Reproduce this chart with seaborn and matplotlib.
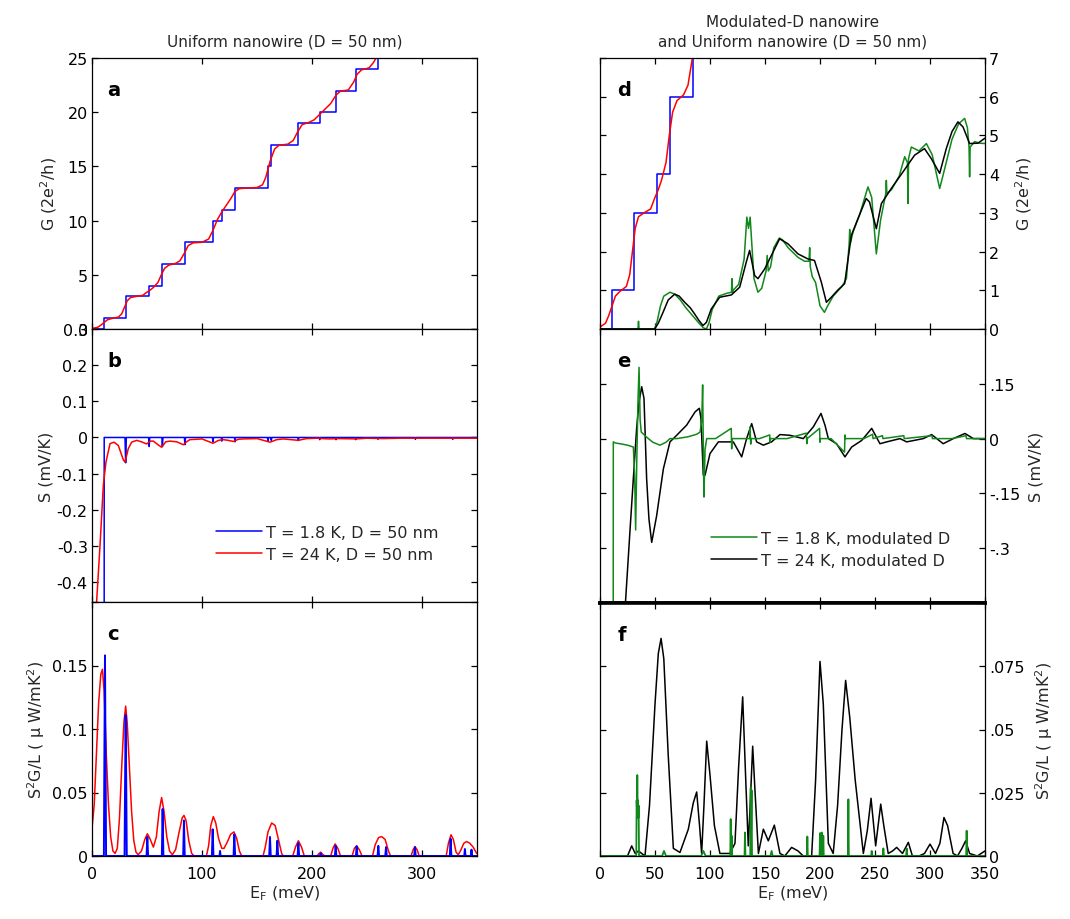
import matplotlib
matplotlib.use("Agg")
import matplotlib.pyplot as plt
import seaborn as sns

# ---------------- data ----------------
# uniform wire, T = 1.8 K, conductance staircase (steps-post)
uni_cold_G_E = [0, 11, 30.6, 52, 64, 84.5, 110, 118, 130, 160, 163, 187.6, 207, 221.8, 239.7, 260, 350]
uni_cold_G = [0, 1, 3, 4, 6, 8, 10, 11, 13, 15, 17, 19, 20, 22, 24, 26, 26]

# uniform wire, T = 24 K, conductance
uni_hot_G_E = [0, 5, 8, 11, 14, 18, 24, 27, 29.5, 32, 35, 40, 46, 50, 53, 56, 60, 63, 66, 70, 76, 80, 84,
               87.5, 92, 100, 106, 110, 114, 118, 122, 126, 130, 134, 140, 150, 155, 158, 162, 166, 170,
               178, 183, 187, 191, 197, 202, 207, 212, 217, 222, 226, 233, 238, 241, 245, 252, 256, 260, 264]
uni_hot_G = [0.05, 0.15, 0.35, 0.6, 0.85, 0.97, 1.1, 1.4, 2.0, 2.6, 2.9, 3.0, 3.1, 3.4, 3.6, 3.85, 4.3, 5.0,
             5.6, 5.9, 6.05, 6.3, 7.0, 7.7, 7.95, 8.0, 8.3, 9.1, 10.1, 10.8, 11.4, 12.0, 12.7, 12.95, 13.0,
             13.05, 13.3, 14.0, 15.5, 16.6, 16.95, 17.05, 17.4, 18.2, 18.85, 19.05, 19.3, 19.8, 20.3, 20.8,
             21.6, 21.95, 22.05, 22.8, 23.5, 23.9, 24.1, 24.6, 25.3, 26.0]

# uniform wire, thermopower
uni_cold_S_E = [0, 11.0, 11.1, 30.0, 30.6, 31.2, 51.5, 52, 52.5, 63.5, 64, 64.5, 84, 84.5, 85, 109.5, 110,
                110.5, 117.5, 118, 118.5, 129.5, 130, 130.5, 159.5, 160, 160.5, 162.5, 163, 163.5, 187,
                187.6, 188.2, 206.5, 207, 207.5, 221.3, 221.8, 222.3, 239.2, 239.7, 240.2, 259.5, 260,
                260.5, 293.5, 294, 294.5, 327.5, 328, 328.5, 350]
uni_cold_S = [-2, -2, 0, 0, -0.07, 0, 0, -0.025, 0, 0, -0.025, 0, 0, -0.02, 0, 0, -0.012, 0, 0, -0.01, 0,
              0, -0.012, 0, 0, -0.01, 0, 0, -0.008, 0, 0, -0.008, 0, 0, -0.006, 0, 0, -0.006, 0, 0, -0.006,
              0, 0, -0.005, 0, 0, -0.005, 0, 0, -0.005, 0, 0]
uni_hot_S_E = [2.7, 4.2, 7.3, 10.3, 12.7, 16.4, 20, 23.9, 28.5, 30, 33, 36, 40.6, 45, 49.7, 53, 55.8, 60,
               63.3, 67, 70.9, 77, 83, 86, 89, 100, 110, 115, 119.4, 124, 128.5, 133, 137.6, 150, 161.8,
               168, 174, 181, 187.6, 195, 205, 215, 225, 240, 250, 265, 280, 300, 330, 350]
uni_hot_S = [-0.46, -0.454, -0.298, -0.132, -0.068, -0.017, -0.013, -0.022, -0.062, -0.068, -0.031,
             -0.013, -0.008, -0.012, -0.018, -0.01, -0.01, -0.02, -0.027, -0.012, -0.01, -0.012, -0.02,
             -0.012, -0.006, -0.004, -0.016, -0.008, -0.006, -0.008, -0.011, -0.005, -0.004, -0.003,
             -0.013, -0.006, -0.004, -0.006, -0.008, -0.003, -0.002, -0.004, -0.003, -0.004, -0.002,
             -0.003, -0.002, -0.002, -0.002, -0.002]

# uniform wire, power factor
uni_hot_P_E = [0, 2, 4, 6, 8, 9.5, 11, 13, 15, 17, 19, 21, 23, 25, 27, 29, 30.6, 32, 34, 36, 38, 40, 42, 45,
               48, 50.3, 52.5, 55.8, 58.5, 61, 63.3, 65.5, 68, 70.5, 73, 76, 79, 82, 83.6, 85.5, 88, 90.6,
               93, 104, 106, 108, 110.3, 112.5, 115, 118, 120, 123, 126, 129, 131.5, 134, 136, 155.5, 157.5,
               160, 163.3, 166.5, 169.5, 172.4, 174, 182.5, 185, 187.6, 190.5, 193, 204.5, 206.5, 208, 210,
               212, 217, 219, 221, 223.5, 226, 236.5, 238.5, 240.6, 243, 245.5, 255, 257.5, 260.5, 263.3,
               266.5, 269.5, 271.5, 290, 292, 293.6, 295.5, 297.5, 322, 324, 326.4, 328.5, 331, 333, 335.5,
               338, 340.6, 343.5, 346.5, 349.7, 350]
uni_hot_P = [0.022, 0.04, 0.08, 0.12, 0.143, 0.147, 0.13, 0.08, 0.04, 0.015, 0.004, 0.002, 0.006, 0.03,
             0.07, 0.105, 0.118, 0.105, 0.07, 0.035, 0.012, 0.003, 0.001, 0.004, 0.013, 0.0175, 0.014, 0.007,
             0.015, 0.035, 0.046, 0.035, 0.015, 0.004, 0.001, 0.005, 0.018, 0.03, 0.032, 0.028, 0.012, 0.002,
             0.0, 0.0, 0.008, 0.024, 0.031, 0.026, 0.014, 0.006, 0.006, 0.011, 0.017, 0.019, 0.014, 0.004,
             0.0, 0.0, 0.007, 0.019, 0.026, 0.024, 0.013, 0.002, 0.0, 0.0, 0.007, 0.012, 0.007, 0.0, 0.0,
             0.002, 0.003, 0.001, 0.0, 0.0, 0.006, 0.0095, 0.006, 0.0, 0.0, 0.006, 0.008, 0.005, 0.0, 0.0,
             0.009, 0.0145, 0.0153, 0.013, 0.004, 0.0, 0.0, 0.005, 0.0074, 0.005, 0.0, 0.0, 0.01, 0.0167,
             0.013, 0.003, 0.001, 0.005, 0.01, 0.0114, 0.01, 0.007, 0.002, 0.002]
uni_cold_P_E = [0, 10.8, 11.3, 11.8, 12.3, 12.8, 29.6, 30.1, 30.6, 31.1, 31.6, 49.6, 50.3, 51.0, 63.5, 64.2,
                64.9, 82.9, 83.6, 84.3, 109.0, 109.7, 110.4, 115.9, 116.4, 116.9, 128.7, 129.4, 130.1, 161.1,
                161.8, 162.5, 167.8, 168.5, 169.2, 186.9, 187.6, 188.3, 207.4, 207.9, 208.4, 220.8, 221.5,
                222.2, 239.9, 240.6, 241.3, 259.6, 260.3, 261.0, 266.6, 267.3, 268.0, 292.9, 293.6, 294.3,
                325.3, 326.0, 326.7, 338.4, 339.0, 339.6, 344.4, 345.0, 345.6, 350]
uni_cold_P = [0, 0, 0.085, 0.158, 0.08, 0, 0, 0.06, 0.111, 0.06, 0, 0, 0.015, 0, 0, 0.037, 0, 0, 0.028, 0, 0,
              0.021, 0, 0, 0.004, 0, 0, 0.017, 0, 0, 0.015, 0, 0, 0.012, 0, 0, 0.010, 0, 0, 0.002, 0, 0,
              0.008, 0, 0, 0.0077, 0, 0, 0.008, 0, 0, 0.007, 0, 0, 0.007, 0, 0, 0.0135, 0, 0, 0.0055, 0, 0,
              0.005, 0, 0]

# modulated-D wire, conductance
mod_hot_G_E = [0, 49.7, 53, 57.3, 62, 67.9, 72, 77, 82, 86, 90, 93.6, 96.7, 101.2, 108.8, 119.4, 127, 133,
               136, 140.6, 143.6, 149.7, 155.8, 163.3, 170.9, 180, 189, 195, 201.2, 205.8, 210.3, 216, 222.4,
               228.5, 234.5, 242, 245, 251.2, 255.8, 264.8, 275.5, 286, 295, 301.2, 308.8, 314.8, 320, 325.4,
               330, 336, 343.6, 350]
mod_hot_G = [0, 0, 0.15, 0.43, 0.75, 0.9, 0.85, 0.69, 0.55, 0.39, 0.22, 0.09, 0.17, 0.52, 0.82, 0.88, 1.08,
             1.73, 2.03, 1.38, 1.3, 1.55, 1.9, 2.33, 2.2, 1.94, 1.81, 1.77, 1.21, 0.69, 0.82, 1.0, 1.17, 2.42,
             2.85, 3.37, 3.28, 2.59, 3.24, 3.63, 4.06, 4.49, 4.66, 4.4, 4.02, 4.66, 5.1, 5.35, 5.22, 4.79,
             4.8, 4.93]
mod_cold_G_E = [0, 34.5, 35, 35.5, 49.7, 52, 55, 58, 63.6, 68, 73, 78, 84, 90, 94, 96.7, 99, 102, 108, 115,
                119.5, 120, 120.5, 121, 126, 131, 133.5, 135, 136.5, 138, 140, 143.6, 147, 151, 152, 153, 155,
                158, 163, 166, 171, 180, 186, 190, 190.6, 191.2, 193, 196, 200, 204, 207, 212, 220, 224,
                226.5, 227, 227.5, 230, 236, 243.6, 247, 251.2, 255, 259.8, 260.3, 260.8, 265, 272, 277,
                279.5, 280, 280.5, 283, 290, 296.7, 302, 308.8, 313, 320, 326, 331.5, 334, 335.5, 336, 336.5,
                340.6, 345, 350]
mod_cold_G = [0, 0, 0.2, 0, 0, 0.2, 0.6, 0.85, 0.95, 0.9, 0.75, 0.55, 0.35, 0.15, 0.03, 0.0, 0.15, 0.5,
              0.85, 0.92, 0.95, 1.3, 0.95, 1.0, 1.15, 1.8, 2.89, 2.6, 2.89, 2.2, 1.3, 0.95, 1.05, 1.5, 1.9,
              1.5, 1.6, 2.1, 2.35, 2.3, 2.1, 1.85, 1.75, 1.75, 2.1, 1.6, 1.35, 1.2, 0.6, 0.43, 0.6, 0.85, 1.1,
              1.3, 2.2, 2.57, 2.2, 2.5, 2.95, 3.67, 3.4, 1.94, 2.8, 3.5, 3.84, 3.5, 3.6, 3.95, 4.45, 4.3,
              3.24, 4.4, 4.7, 4.6, 4.79, 4.5, 3.63, 4.1, 4.9, 5.3, 5.44, 5.2, 4.7, 3.93, 4.7, 4.84, 4.8,
              4.79]

# modulated-D wire, thermopower
mod_cold_S_E = [12.0, 12.1, 14, 20, 25, 30.3, 31.5, 32.4, 33.5, 34.5, 35.5, 36.5, 37.5, 42, 48, 54.5, 60,
                63.6, 70, 80, 88, 91, 92.5, 93.3, 94, 94.5, 95.5, 97, 105, 119.3, 119.7, 120.1, 130, 136,
                136.4, 137, 137.5, 145, 154.3, 154.6, 155, 170, 187.6, 188, 188.4, 199.6, 200, 200.4, 210,
                222.3, 222.7, 223.1, 240, 247.8, 248.2, 256.8, 257.2, 276.2, 276.6, 301.8, 302.2, 320,
                332.8, 333.2, 340, 350]
mod_cold_S = [-0.6, -0.009, -0.012, -0.015, -0.018, -0.023, -0.1, -0.25, -0.05, 0.1, 0.195, 0.05, 0.018,
              0.005, -0.01, -0.018, -0.01, 0.0, 0.0, 0.005, 0.012, 0.018, 0.05, 0.147, -0.05, -0.16, -0.03,
              0.0, 0.0, 0.028, -0.028, 0.0, 0.0, 0.0, 0.032, -0.015, 0.0, 0.0, 0.01, -0.01, 0.0, 0.0, 0.015,
              -0.014, 0.0, 0.028, -0.01, 0.0, 0.0, -0.037, 0.01, 0.0, 0.0, 0.012, 0.0, 0.008, 0.0, 0.008,
              0.0, 0.008, 0.0, 0.0, 0.008, 0.0, 0.0, 0.0]
mod_hot_S_E = [22.7, 25, 27.3, 30.3, 33.3, 35.5, 37.9, 40, 42.4, 44.5, 47, 51.5, 57.6, 63.6, 69.7, 78.8,
               86.4, 90.3, 91.8, 93.9, 95.5, 100, 107.6, 121.2, 128.8, 133.3, 137.9, 142.4, 148.5, 156,
               163.6, 172.7, 184.8, 193.9, 200.9, 204.5, 207.6, 215, 222.7, 228.8, 237.9, 247, 254.5,
               260.6, 272.7, 278.8, 293.9, 301.5, 312, 321.2, 331.8, 339.4, 350]
mod_hot_S = [-0.47, -0.36, -0.25, -0.11, 0.028, 0.1, 0.142, 0.11, -0.11, -0.22, -0.284, -0.211, -0.083,
             -0.009, 0.009, 0.037, 0.073, 0.083, 0.055, -0.1, -0.1, -0.041, -0.009, -0.009, -0.05, 0.0,
             0.041, -0.009, -0.018, -0.009, 0.011, 0.009, 0.0, 0.032, 0.069, 0.037, 0.0, -0.014, -0.05,
             -0.023, -0.005, 0.028, -0.014, -0.009, 0.0, -0.009, 0.0, 0.011, -0.014, 0.0, 0.014, 0.0, 0.0]

# modulated-D wire, power factor
mod_hot_P_E = [0, 25, 28.8, 32, 35, 37.9, 40.9, 45, 50, 53, 55.5, 58, 62, 66.7, 72.7, 80.3, 84.8, 87.9,
               90.5, 92.4, 94.5, 97, 100, 104, 109, 118, 122.7, 126, 129.7, 132.5, 134.8, 136.5, 138.8, 141,
               144, 148.5, 153, 158.5, 163.6, 168, 174.2, 180, 184.8, 192.4, 196, 200, 203, 207.6, 212, 216,
               220, 223.3, 227, 232, 239.4, 243, 246.4, 250.6, 255.2, 258, 262, 266, 269.7, 275, 280.3, 284,
               290, 295, 300, 305, 309, 312.7, 316, 321, 325, 329, 332.4, 336, 343, 350]
mod_hot_P = [0, 0, 0.004, 0.001, 0.002, 0.001, 0.0, 0.02, 0.06, 0.08, 0.086, 0.078, 0.04, 0.003, 0.0014,
             0.0106, 0.021, 0.0253, 0.012, 0.001, 0.02, 0.0454, 0.032, 0.012, 0.001, 0.001, 0.005, 0.035,
             0.0629, 0.03, 0.004, 0.02, 0.0434, 0.025, 0.001, 0.0106, 0.006, 0.0122, 0.001, 0.0, 0.0034,
             0.002, 0.0, 0.0, 0.03, 0.0769, 0.06, 0.005, 0.001, 0.02, 0.05, 0.0694, 0.055, 0.03, 0.001,
             0.01, 0.0228, 0.004, 0.0205, 0.012, 0.001, 0.002, 0.0034, 0.001, 0.0054, 0.0, 0.0, 0.001,
             0.0047, 0.001, 0.005, 0.0152, 0.012, 0.001, 0.0, 0.003, 0.006, 0.001, 0.0, 0.002]
mod_cold_P_E = [0, 33.0, 33.3, 33.6, 33.9, 34.2, 34.5, 34.8, 35.1, 35.5, 56.5, 58.2, 60, 92, 94, 96, 118.4,
                118.8, 119.2, 119.7, 120.1, 131.4, 131.8, 132.2, 136.6, 137.0, 137.4, 137.8, 138.2, 155, 156,
                157, 188.1, 188.5, 188.9, 199.6, 200, 200.4, 201.1, 201.5, 201.9, 202.6, 203, 203.4, 225.4,
                225.8, 226.2, 246.5, 247, 247.5, 257.1, 257.6, 258.1, 278.3, 278.8, 279.3, 332.9, 333.3,
                333.7, 350]
mod_cold_P = [0, 0, 0.022, 0.018, 0.032, 0.02, 0.022, 0.015, 0.02, 0, 0, 0.002, 0, 0, 0.002, 0, 0, 0.0146,
              0, 0.008, 0, 0, 0.0093, 0, 0, 0.027, 0.01, 0.026, 0, 0, 0.002, 0, 0, 0.0077, 0, 0, 0.009, 0,
              0, 0.0093, 0, 0, 0.008, 0, 0, 0.0224, 0, 0, 0.002, 0, 0, 0.003, 0, 0, 0.003, 0, 0, 0.01, 0, 0]

legend_uniform = ["T = 1.8 K, D = 50 nm", "T = 24 K, D = 50 nm"]
legend_modulated = ["T = 1.8 K, modulated D", "T = 24 K, modulated D"]
panel_letters = ["a", "b", "c", "d", "e", "f"]

# ---------------- styling ----------------
sns.set_theme(style="ticks")
plt.rcParams['font.family'] = ['DejaVu Sans']
plt.rcParams['mathtext.default'] = 'regular'
plt.rcParams['axes.edgecolor'] = 'black'
plt.rcParams['axes.linewidth'] = 0.9

BLUE, RED, GREEN, BLACK = "#0000ff", "#ff0000", "#11881a", "#000000"
FS = 11.5

fig = plt.figure(figsize=(10.7, 9.2), dpi=100)
W, H = 1070.0, 920.0


def box(x0, y0, x1, y1):
    return [x0 / W, 1 - y1 / H, (x1 - x0) / W, (y1 - y0) / H]


axa = fig.add_axes(box(92, 59, 477, 330))
axb = fig.add_axes(box(92, 330, 477, 603))
axc = fig.add_axes(box(92, 603, 477, 857))
axd = fig.add_axes(box(600, 59, 985, 330))
axe = fig.add_axes(box(600, 330, 985, 604))
axf = fig.add_axes(box(600, 604, 985, 857))


def line(ax, x, y, color, lw=1.1, **kw):
    sns.lineplot(x=x, y=y, ax=ax, color=color, linewidth=lw, sort=False,
                 estimator=None, legend=False, **kw)
    return ax.lines[-1]


# panel a
line(axa, uni_cold_G_E, uni_cold_G, BLUE, drawstyle="steps-post")
line(axa, uni_hot_G_E, uni_hot_G, RED)
# panel b
hb = line(axb, uni_cold_S_E, uni_cold_S, BLUE)
hr = line(axb, uni_hot_S_E, uni_hot_S, RED)
# panel c
line(axc, uni_hot_P_E, uni_hot_P, RED)
line(axc, uni_cold_P_E, uni_cold_P, BLUE, lw=1.4)
# panel d
line(axd, uni_cold_G_E, uni_cold_G, BLUE, drawstyle="steps-post")
line(axd, uni_hot_G_E, uni_hot_G, RED)
line(axd, mod_cold_G_E, mod_cold_G, GREEN)
line(axd, mod_hot_G_E, mod_hot_G, BLACK)
# panel e
hk = line(axe, mod_hot_S_E, mod_hot_S, BLACK)
hg = line(axe, mod_cold_S_E, mod_cold_S, GREEN)
# panel f
line(axf, mod_hot_P_E, mod_hot_P, BLACK)
line(axf, mod_cold_P_E, mod_cold_P, GREEN, lw=1.3)

# axes limits / ticks
for ax in (axa, axb, axc, axd, axe, axf):
    ax.set_xlim(0, 350)
    ax.set_xlabel("")
    ax.set_ylabel("")
    for s in ax.spines.values():
        s.set_visible(True)
        s.set_color("black")

for ax in (axa, axb, axc):
    ax.set_xticks([0, 100, 200, 300])
    ax.tick_params(direction="in", top=True, right=True, left=True, bottom=True,
                   length=4, width=0.9, labelsize=FS, colors="black", pad=3)
for ax in (axd, axe, axf):
    ax.set_xticks([0, 50, 100, 150, 200, 250, 300, 350])
    ax.tick_params(direction="in", top=True, right=True, left=True, bottom=True,
                   labelleft=False, labelright=True,
                   length=4, width=0.9, labelsize=FS, colors="black", pad=3)
    ax.yaxis.set_label_position("right")

for ax in (axa, axb, axd, axe):
    ax.tick_params(labelbottom=False)
for ax in (axc, axf):
    ax.tick_params(axis="x", pad=7)

axa.set_ylim(0, 25)
axa.set_yticks([0, 5, 10, 15, 20, 25], ["0", "5", "10", "15", "20", "25"])
axb.set_ylim(-0.455, 0.3)
axb.set_yticks([-0.4, -0.3, -0.2, -0.1, 0, 0.1, 0.2, 0.3],
               ["-0.4", "-0.3", "-0.2", "-0.1", "0", "0.1", "0.2", "0.3"])
axc.set_ylim(0, 0.2)
axc.set_yticks([0, 0.05, 0.1, 0.15, 0.2], ["0", "0.05", "0.1", "0.15", ""])
axd.set_ylim(0, 7)
axd.set_yticks(range(8), [str(i) for i in range(8)])
axe.set_ylim(-0.45, 0.3)
axe.set_yticks([-0.3, -0.15, 0, 0.15], ["-.3", "-.15", "0", ".15"])
axf.set_ylim(0, 0.1)
axf.set_yticks([0, 0.025, 0.05, 0.075, 0.1], ["0", ".025", ".05", ".075", ""])

axe.spines["bottom"].set_linewidth(2.6)
axf.spines["top"].set_linewidth(2.6)

# labels
axa.set_ylabel("G (2e$^2$/h)", fontsize=FS, labelpad=6)
axb.set_ylabel("S (mV/K)", fontsize=FS, labelpad=2)
axc.set_ylabel("S$^2$G/L ( μ W/mK$^2$)", fontsize=FS, labelpad=4)
axd.set_ylabel("G (2e$^2$/h)", fontsize=FS, labelpad=10)
axe.set_ylabel("S (mV/K)", fontsize=FS, labelpad=6)
axf.set_ylabel("S$^2$G/L ( μ W/mK$^2$)", fontsize=FS, labelpad=6)
axc.set_xlabel("E$_F$ (meV)", fontsize=FS, labelpad=2)
axf.set_xlabel("E$_F$ (meV)", fontsize=FS, labelpad=2)

axa.set_title("Uniform nanowire (D = 50 nm)", fontsize=11, pad=9)
axd.set_title("Modulated-D nanowire\nand Uniform nanowire (D = 50 nm)", fontsize=11, pad=9,
              linespacing=1.35)

letter_pos = [(axa, 0.04, 0.885), (axb, 0.04, 0.885), (axc, 0.04, 0.875),
              (axd, 0.045, 0.885), (axe, 0.045, 0.885), (axf, 0.045, 0.875)]
for (ax, px, py), letter in zip(letter_pos, panel_letters):
    ax.text(px, py, letter, transform=ax.transAxes, fontsize=14, fontweight="bold",
            ha="left", va="center", color="black")

axb.legend(handles=[hb, hr], labels=legend_uniform, loc="center left",
           bbox_to_anchor=(0.322, 0.2145), frameon=False, fontsize=FS,
           handlelength=2.9, handletextpad=0.25, labelspacing=0.45,
           borderpad=0, borderaxespad=0)
axe.legend(handles=[hg, hk], labels=legend_modulated, loc="center left",
           bbox_to_anchor=(0.2875, 0.196), frameon=False, fontsize=FS,
           handlelength=2.9, handletextpad=0.25, labelspacing=0.45,
           borderpad=0, borderaxespad=0)

fig.savefig("out.png", dpi=100)
